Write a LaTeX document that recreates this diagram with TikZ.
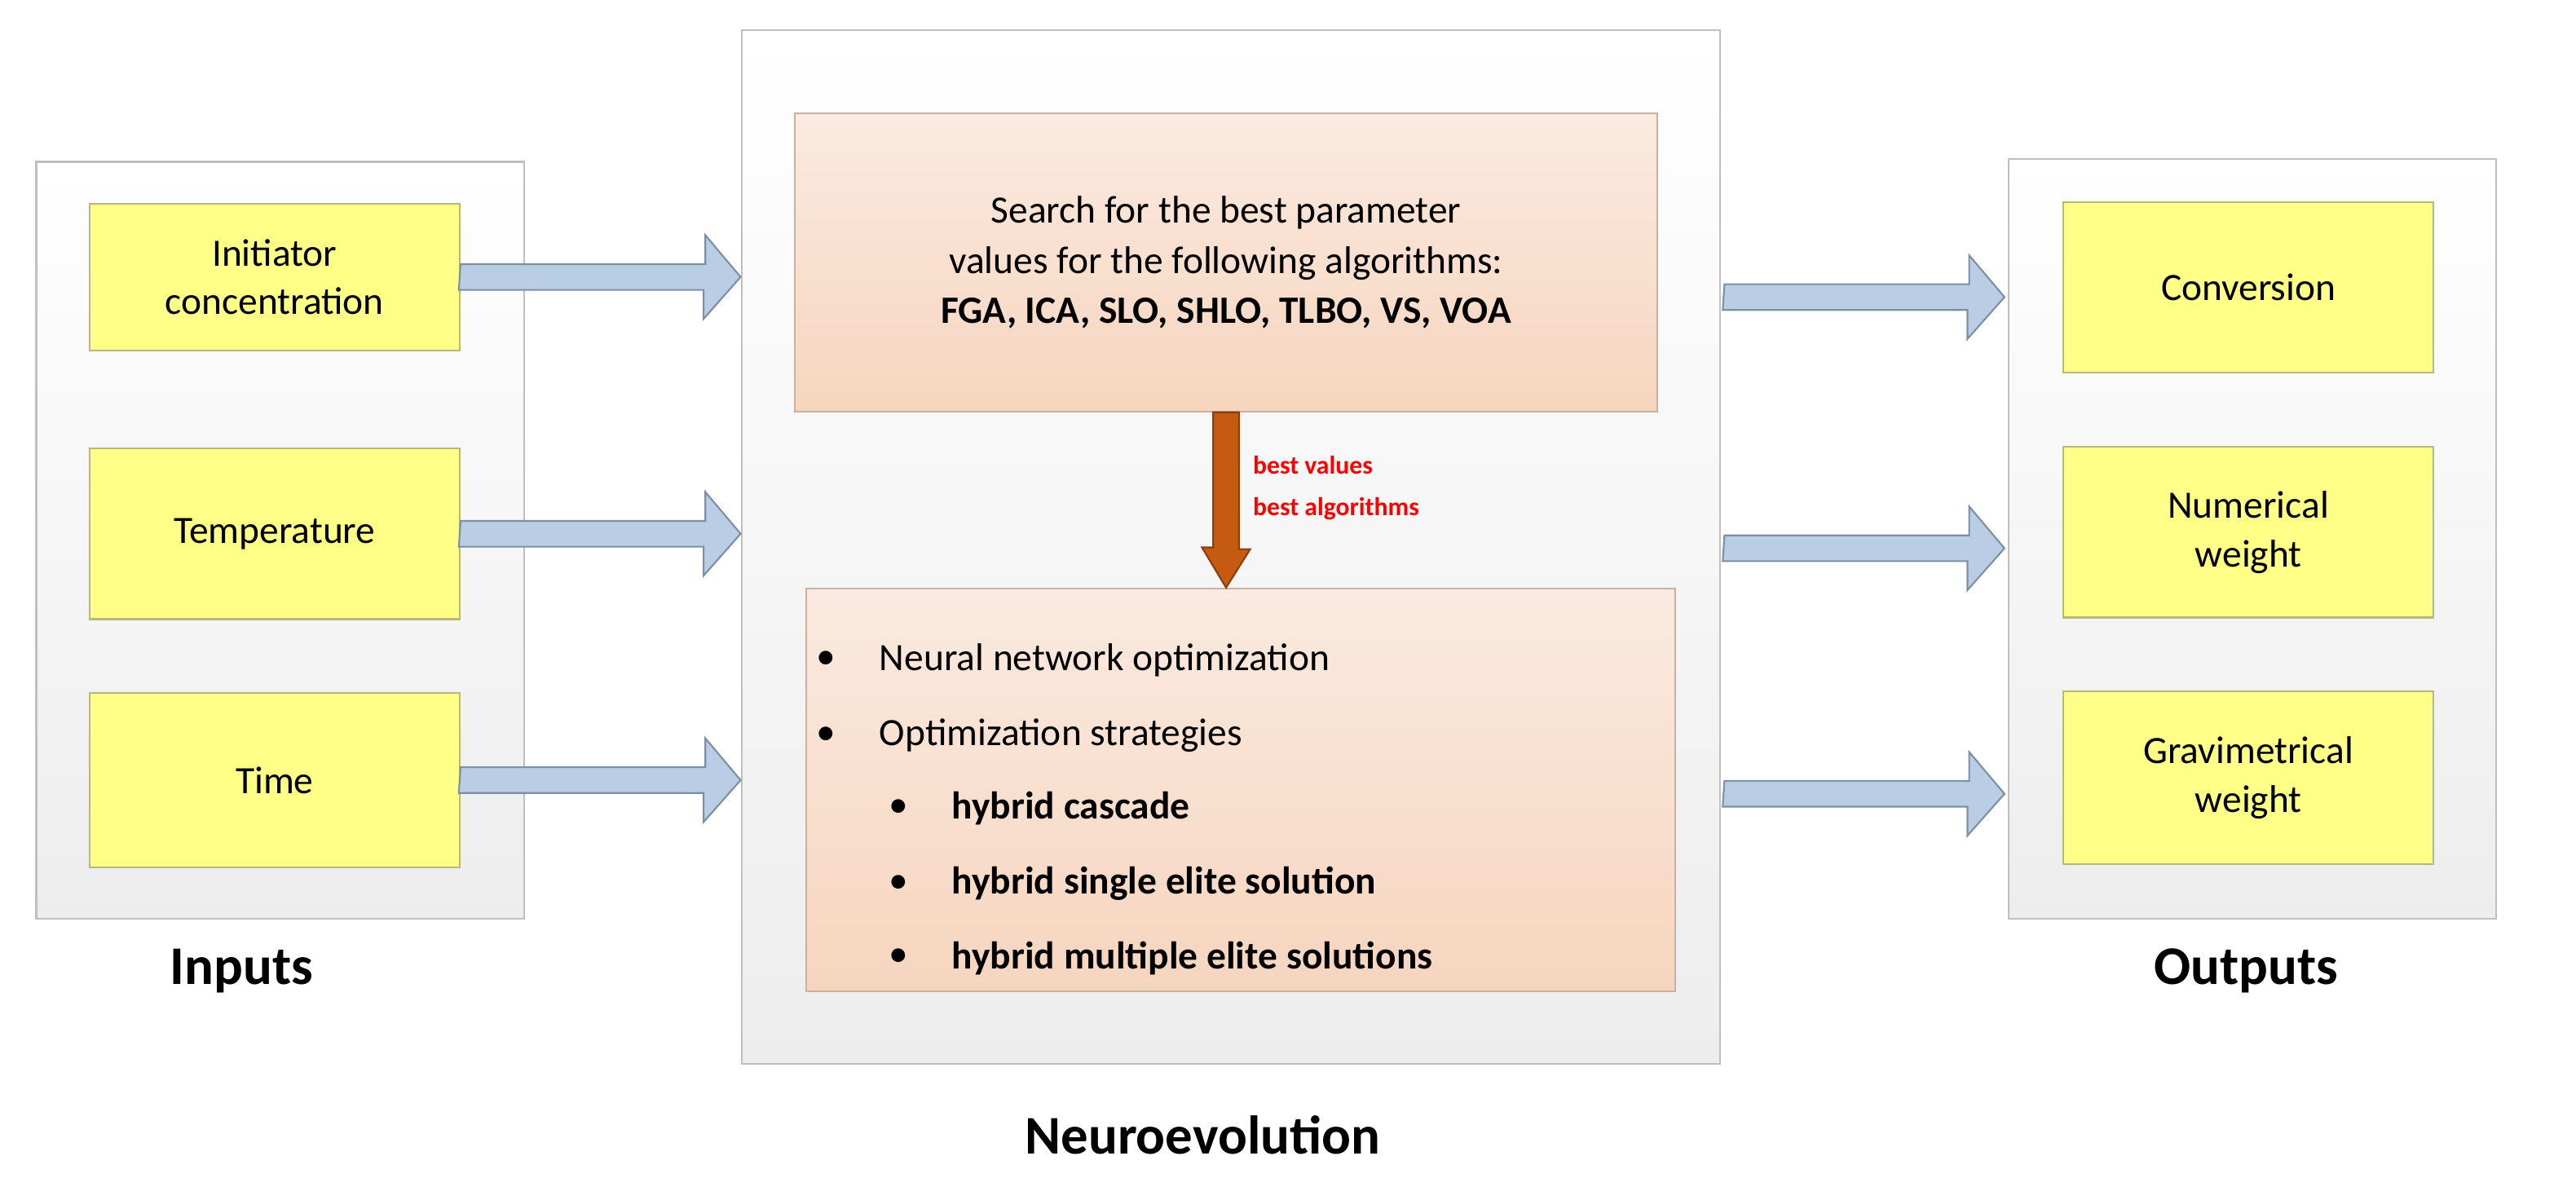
\documentclass[tikz,border=0pt]{standalone}
\usepackage{fontspec}
\setmainfont{Carlito}
\usetikzlibrary{positioning,calc}

\definecolor{panelgray}{HTML}{EDEDED}
\definecolor{paneledge}{HTML}{BFBFBF}
\definecolor{noteyellow}{HTML}{FFFF88}
\definecolor{noteedge}{HTML}{B8B87A}
\definecolor{peachtop}{HTML}{FBEAE0}
\definecolor{peachbot}{HTML}{F6D5BE}
\definecolor{peachedge}{HTML}{C9B0A0}
\definecolor{arrowblue}{HTML}{B9CDE5}
\definecolor{arrowedge}{HTML}{7F8FA3}
\definecolor{rust}{HTML}{C55A11}

\tikzset{
  panel/.style={draw=paneledge, line width=0.6pt, top color=white, bottom color=panelgray, anchor=north west},
  note/.style={draw=noteedge, line width=0.6pt, fill=noteyellow, anchor=north west, align=center, font=\fontsize{13.5}{17}\selectfont},
  task/.style={draw=peachedge, line width=0.6pt, top color=peachtop, bottom color=peachbot, anchor=north west},
  title/.style={font=\fontsize{19}{22}\selectfont\bfseries},
  barrow/.style={draw=arrowedge, line width=0.6pt, fill=arrowblue},
}

\begin{document}
\begin{tikzpicture}[x=0.01975cm, y=-0.01975cm]

\path [use as bounding box] (0,0) rectangle (1600,745);

% PANELS
\node [panel, minimum width=303*0.01975cm, minimum height=470*0.01975cm] (inpanel) at (22,100) {};
\node [panel, minimum width=608*0.01975cm, minimum height=642*0.01975cm] (midpanel) at (460,18) {};
\node [panel, minimum width=303*0.01975cm, minimum height=472*0.01975cm] (outpanel) at (1247,98) {};

% INPUTS
\node [note, minimum width=230*0.01975cm, minimum height=91*0.01975cm] (init) at (55,126) {Initiator\\concentration};
\node [note, minimum width=230*0.01975cm, minimum height=106*0.01975cm] (temp) at (55,278) {Temperature};
\node [note, minimum width=230*0.01975cm, minimum height=108*0.01975cm] (time) at (55,430) {Time};

% OUTPUTS
\node [note, minimum width=230*0.01975cm, minimum height=106*0.01975cm] (conv) at (1281,125) {Conversion};
\node [note, minimum width=230*0.01975cm, minimum height=106*0.01975cm] (numw) at (1281,277) {Numerical\\weight};
\node [note, minimum width=230*0.01975cm, minimum height=107*0.01975cm] (gravw) at (1281,429) {Gravimetrical\\weight};

% NEUROEVOLUTION
\node [task, minimum width=536*0.01975cm, minimum height=185*0.01975cm] (search) at (493,70) {};
\node [align=center, font=\fontsize{13.5}{17.5}\selectfont] at (search.center)
  {Search for the best parameter\\values for the following algorithms:\\\textbf{FGA, ICA, SLO, SHLO, TLBO, VS, VOA}};
\node [task, minimum width=540*0.01975cm, minimum height=250*0.01975cm] (optim) at (500,365) {};
\begin{scope}[font=\fontsize{13.5}{16}\selectfont]
  \node at (513,410) {\textbullet};
  \node [anchor=west] at (540,410) {Neural network optimization};
  \node at (513,457) {\textbullet};
  \node [anchor=west] at (540,457) {Optimization strategies};
  \foreach \y/\txt in {502/hybrid cascade, 549/hybrid single elite solution, 595/hybrid multiple elite solutions} {
    \node at (558,\y) {\textbullet};
    \node [anchor=west, font=\fontsize{13.5}{16}\selectfont\bfseries] at (585,\y) {\txt};
  }
\end{scope}

% BROWN ARROW
\draw [draw=rust!70!black, line width=0.6pt, fill=rust] (search.south) ++(-8,0) -- ++(16,0) -- ++(0,85) -- ++(7,0)
  -- (optim.north -| search.south) -- ++(-15,-25) -- ++(7,0) -- cycle;
\node [anchor=west, align=left, text=red, font=\fontsize{9}{14.5}\selectfont\bfseries] at (772,303) {best values\\best algorithms};

% BLUE ARROWS
\foreach \src/\dst in {init/midpanel, temp/midpanel, time/midpanel} {
  \draw [barrow] (\src.east) ++(0,-8) -- ++(152,0) -- ++(0,-18) -- ($(\dst.west |- \src.east)$) -- ++(-23,26) -- ++(0,-18) -- ++(-152,0) -- cycle;
}
\foreach \src/\dst/\dy in {conv/midpanel/6, numw/midpanel/10, gravw/midpanel/10} {
  \draw [barrow] ($(\dst.east |- \src.west)+(2,\dy-8)$) -- ++(152,0) -- ++(0,-18) -- ($(\src.west)+(-36,\dy)$) -- ++(-23,26) -- ++(0,-18) -- ++(-152,0) -- cycle;
}

% TITLES
\node [title] (intitle) at (150,603) {Inputs};
\node [title] (midtitle) at (747,705) {Neuroevolution};
\node [title] (outtitle) at (1395,603) {Outputs};

\end{tikzpicture}
\end{document}
